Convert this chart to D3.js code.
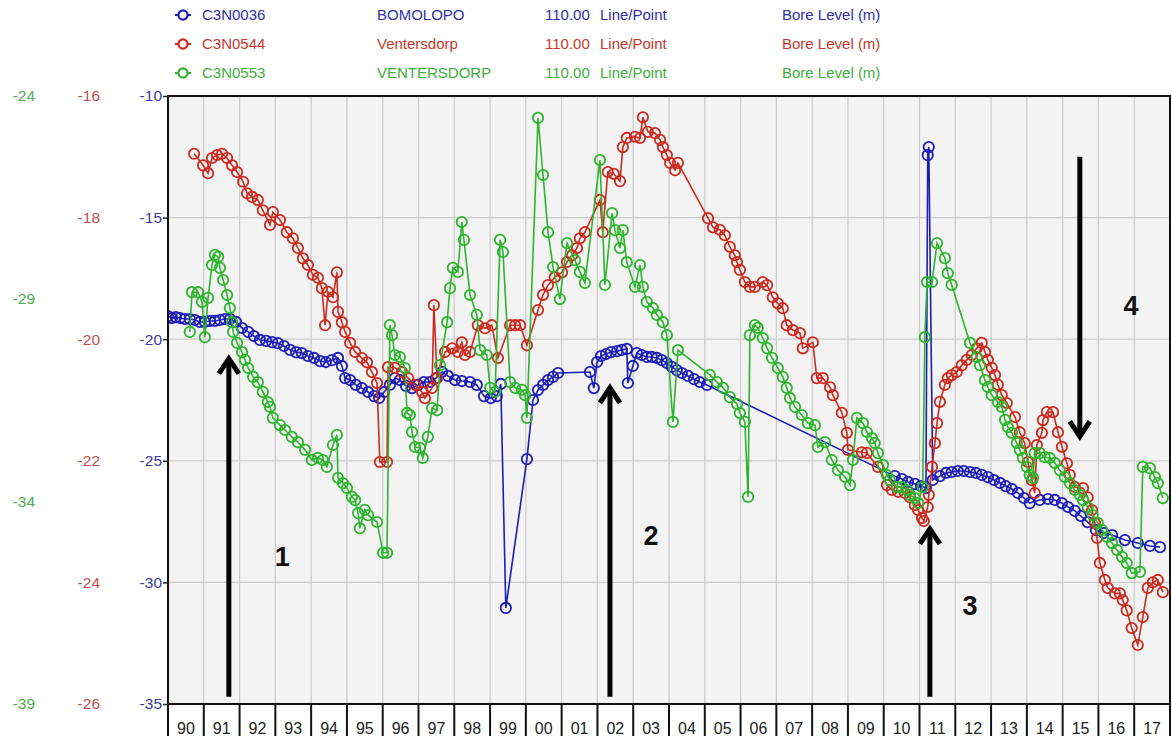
<!DOCTYPE html>
<html>
<head>
<meta charset="utf-8">
<script src="https://cdn.jsdelivr.net/npm/d3@7"></script>
<style>
  body { margin: 0; background: #fff; }
  svg { display: block; font-family: "Liberation Sans", Arial, sans-serif; }
</style>
</head>
<body>
<div id="root"></div>
<script>
// bore levels: [decimal year, level (m)]
const bluePoints = [
  [1990.00,-19.05],[1990.11,-19.13],[1990.22,-19.09],[1990.34,-19.13],[1990.47,-19.17],[1990.61,-19.17],[1990.75,-19.21],[1990.89,-19.29],
  [1991.03,-19.29],[1991.17,-19.25],[1991.31,-19.25],[1991.45,-19.21],[1991.59,-19.17],[1991.73,-19.17],[1991.90,-19.29],
  [1992.07,-19.54],[1992.24,-19.70],[1992.40,-19.87],[1992.57,-20.03],[1992.74,-20.07],[1992.91,-20.12],
  [1993.07,-20.16],[1993.24,-20.28],[1993.41,-20.44],[1993.58,-20.53],[1993.74,-20.57],[1993.91,-20.69],
  [1994.08,-20.77],[1994.25,-20.90],[1994.41,-20.94],[1994.58,-20.86],[1994.75,-20.77],[1994.86,-21.10],[1994.95,-21.60],
  [1995.09,-21.68],[1995.25,-21.88],[1995.42,-22.01],[1995.59,-22.17],[1995.76,-22.34],[1995.90,-22.42],
  [1996.04,-22.17],[1996.20,-21.88],[1996.34,-21.60],[1996.48,-21.68],[1996.65,-21.92],[1996.82,-22.01],[1996.99,-21.88],
  [1997.15,-21.76],[1997.32,-21.76],[1997.49,-21.60],[1997.66,-21.35],[1997.82,-21.51],
  [1998.02,-21.68],[1998.21,-21.72],[1998.44,-21.76],[1998.63,-21.88],[1998.83,-22.34],
  [1999.02,-22.42],[1999.19,-22.34],[1999.30,-21.84],[1999.44,-31.05],
  [2000.03,-24.93],[2000.20,-22.50],[2000.34,-22.09],[2000.48,-21.88],[2000.62,-21.68],[2000.76,-21.55],[2000.90,-21.39],
  [2001.79,-21.35],[2001.90,-22.01],[2001.99,-20.94],
  [2002.10,-20.69],[2002.24,-20.61],[2002.38,-20.53],[2002.55,-20.49],[2002.68,-20.44],[2002.82,-20.40],[2002.85,-21.80],[2002.99,-21.10],
  [2003.10,-20.57],[2003.24,-20.65],[2003.38,-20.73],[2003.52,-20.73],[2003.66,-20.77],[2003.80,-20.86],[2003.94,-20.98],
  [2004.08,-21.14],[2004.22,-21.27],[2004.36,-21.39],[2004.53,-21.51],[2004.70,-21.64],[2004.86,-21.76],[2005.06,-21.88],
  [2010.31,-25.63],[2010.51,-25.75],[2010.68,-25.87],[2010.87,-25.95],
  [2011.04,-26.04],[2011.18,-26.12],[2011.23,-12.43],[2011.26,-12.10],[2011.37,-25.79],[2011.57,-25.63],[2011.74,-25.50],[2011.90,-25.46],
  [2012.07,-25.42],[2012.24,-25.42],[2012.41,-25.46],[2012.58,-25.50],[2012.74,-25.58],[2012.91,-25.67],
  [2013.08,-25.79],[2013.25,-25.91],[2013.41,-26.04],[2013.58,-26.16],[2013.75,-26.32],[2013.92,-26.53],
  [2014.08,-26.74],[2014.36,-26.61],[2014.59,-26.57],[2014.78,-26.61],[2014.98,-26.74],
  [2015.15,-26.90],[2015.34,-27.06],[2015.51,-27.27],[2015.70,-27.52],[2015.93,-27.85],
  [2016.15,-27.97],[2016.38,-28.05],[2016.74,-28.26],[2017.10,-28.38],[2017.44,-28.50],[2017.72,-28.55]
];

const redPoints = [
  [1990.73,-16.95],[1990.98,-17.14],[1991.12,-17.27],[1991.23,-17.02],[1991.37,-16.97],[1991.51,-16.95],[1991.65,-17.02],[1991.79,-17.14],[1991.93,-17.25],
  [1992.10,-17.41],[1992.21,-17.60],[1992.35,-17.66],[1992.51,-17.71],[1992.65,-17.88],[1992.85,-18.12],[1992.93,-17.91],
  [1993.13,-18.04],[1993.32,-18.24],[1993.49,-18.34],[1993.63,-18.50],[1993.77,-18.67],[1993.91,-18.78],
  [1994.05,-18.94],[1994.19,-18.99],[1994.30,-19.16],[1994.39,-19.77],[1994.47,-19.22],[1994.61,-19.31],[1994.72,-18.90],[1994.75,-19.55],[1994.86,-19.72],[1994.95,-19.88],
  [1995.09,-20.06],[1995.23,-20.21],[1995.42,-20.31],[1995.56,-20.38],[1995.70,-20.54],[1995.84,-20.72],[1995.92,-22.02],
  [1996.12,-22.02],[1996.15,-20.46],[1996.34,-20.47],[1996.54,-20.54],[1996.71,-20.64],[1996.90,-20.75],
  [1997.10,-20.87],[1997.18,-20.97],[1997.38,-20.80],[1997.43,-19.44],[1997.52,-20.64],[1997.74,-20.21],[1997.94,-20.15],
  [1998.10,-20.21],[1998.21,-20.05],[1998.30,-20.26],[1998.44,-20.21],[1998.66,-19.77],[1998.86,-19.82],
  [1999.05,-19.77],[1999.22,-20.31],[1999.56,-19.77],[1999.70,-19.77],[1999.84,-19.77],
  [2000.03,-20.10],[2000.34,-19.52],[2000.48,-19.27],[2000.62,-19.11],[2000.81,-18.98],
  [2001.01,-18.90],[2001.15,-18.73],[2001.29,-18.62],[2001.43,-18.50],[2001.51,-18.34],[2001.65,-18.24],
  [2002.07,-17.71],[2002.15,-18.24],[2002.29,-17.25],[2002.46,-17.28],[2002.63,-17.40],[2002.71,-16.84],[2002.82,-16.69],
  [2003.05,-16.67],[2003.19,-16.69],[2003.27,-16.35],[2003.41,-16.59],[2003.61,-16.61],[2003.75,-16.72],[2003.83,-16.84],[2003.94,-16.97],
  [2004.03,-17.10],[2004.17,-17.22],[2004.25,-17.10],
  [2005.09,-18.01],[2005.23,-18.16],[2005.42,-18.20],[2005.56,-18.29],[2005.70,-18.48],[2005.84,-18.62],[2005.90,-18.73],[2005.98,-18.86],
  [2006.12,-19.06],[2006.26,-19.14],[2006.40,-19.14],[2006.62,-19.06],[2006.74,-19.11],[2006.90,-19.31],
  [2007.04,-19.41],[2007.18,-19.49],[2007.29,-19.77],[2007.46,-19.85],[2007.66,-19.90],[2007.74,-20.15],
  [2008.02,-20.05],[2008.13,-20.64],[2008.30,-20.64],[2008.50,-20.79],[2008.58,-20.92],[2008.83,-21.21],[2008.97,-21.54],
  [2009.00,-21.82],[2009.39,-21.86],[2009.53,-21.87],[2009.84,-22.10],
  [2010.09,-22.40],[2010.23,-22.48],[2010.40,-22.51],[2010.59,-22.53],[2010.73,-22.60],[2010.87,-22.73],[2010.96,-22.81],
  [2011.07,-22.94],[2011.12,-22.99],[2011.23,-22.76],[2011.26,-22.56],[2011.35,-22.10],[2011.43,-21.71],[2011.49,-21.38],[2011.57,-21.03],[2011.71,-20.75],[2011.79,-20.64],[2011.90,-20.59],
  [2012.04,-20.54],[2012.18,-20.43],[2012.32,-20.34],[2012.46,-20.26],[2012.60,-20.15],[2012.74,-20.06],[2012.83,-20.21],[2012.91,-20.34],
  [2013.02,-20.47],[2013.11,-20.59],[2013.19,-20.75],[2013.30,-20.92],[2013.44,-21.05],[2013.67,-21.28],[2013.80,-21.53],[2013.94,-21.71],
  [2014.03,-22.02],[2014.14,-22.32],[2014.22,-22.53],[2014.28,-21.74],[2014.42,-21.54],[2014.45,-21.33],[2014.56,-21.20],[2014.73,-21.20],[2014.87,-21.53],[2014.98,-21.77],
  [2015.12,-22.04],[2015.20,-22.23],[2015.34,-22.43],[2015.57,-22.45],[2015.70,-22.60],[2015.82,-22.81],[2015.90,-23.02],[2015.96,-23.27],
  [2016.04,-23.68],[2016.18,-23.96],[2016.26,-24.09],[2016.46,-24.18],[2016.60,-24.18],[2016.68,-24.29],[2016.79,-24.46],[2016.93,-24.75],
  [2017.10,-25.03],[2017.24,-24.57],[2017.38,-24.09],[2017.52,-24.00],[2017.66,-23.96],[2017.80,-24.16]
];

const greenPoints = [
  [1990.61,-29.82],[1990.67,-28.84],[1990.84,-28.84],[1990.95,-29.08],[1991.03,-29.95],[1991.12,-28.98],[1991.23,-28.17],[1991.31,-27.92],
  [1991.40,-27.97],[1991.45,-28.24],[1991.54,-28.54],[1991.65,-28.91],[1991.73,-29.23],[1991.79,-29.58],[1991.82,-29.82],[1991.93,-30.09],
  [1992.07,-30.32],[1992.15,-30.51],[1992.24,-30.71],[1992.38,-30.93],[1992.51,-31.06],[1992.65,-31.30],[1992.79,-31.55],[1992.85,-31.67],[1992.93,-31.94],
  [1993.13,-32.12],[1993.27,-32.24],[1993.46,-32.41],[1993.63,-32.54],[1993.83,-32.73],
  [1994.02,-32.98],[1994.19,-32.93],[1994.33,-32.98],[1994.44,-33.15],[1994.61,-32.61],[1994.72,-32.36],[1994.75,-33.42],[1994.89,-33.55],
  [1995.00,-33.67],[1995.14,-33.89],[1995.23,-33.97],[1995.31,-34.29],[1995.36,-34.66],[1995.50,-34.21],[1995.59,-34.34],[1995.84,-34.51],
  [1996.01,-35.27],[1996.12,-35.27],[1996.20,-29.65],[1996.26,-29.90],[1996.34,-30.39],[1996.48,-30.44],[1996.62,-30.71],[1996.68,-31.82],[1996.76,-31.87],[1996.82,-32.29],[1996.90,-32.66],
  [1997.04,-32.68],[1997.12,-32.93],[1997.26,-32.41],[1997.38,-31.70],[1997.52,-31.75],[1997.60,-30.64],[1997.80,-29.58],[1997.88,-28.74],[1997.96,-28.24],
  [1998.10,-28.34],[1998.21,-27.11],[1998.27,-27.55],[1998.44,-28.91],[1998.63,-29.40],[1998.72,-30.27],[1998.91,-30.39],
  [1999.00,-31.20],[1999.14,-31.30],[1999.28,-27.55],[1999.36,-27.85],[1999.56,-31.06],[1999.70,-31.20],[1999.89,-31.25],[1999.98,-31.38],
  [2000.03,-31.94],[2000.34,-24.54],[2000.48,-25.95],[2000.62,-27.36],[2000.76,-28.22],[2000.95,-29.01],
  [2001.15,-27.63],[2001.37,-28.05],[2001.51,-28.34],[2001.65,-28.61],
  [2002.07,-25.58],[2002.21,-28.66],[2002.41,-26.89],[2002.49,-27.31],[2002.63,-27.75],[2002.71,-27.31],[2002.82,-28.10],
  [2003.05,-28.71],[2003.19,-28.17],[2003.27,-28.71],[2003.38,-29.08],[2003.55,-29.23],[2003.66,-29.40],[2003.83,-29.58],[2003.94,-29.90],
  [2004.11,-32.04],[2004.25,-30.27],
  [2005.14,-30.88],[2005.34,-31.06],[2005.51,-31.20],[2005.70,-31.43],[2005.90,-31.60],[2005.98,-31.82],
  [2006.12,-32.04],[2006.21,-33.89],[2006.26,-29.90],[2006.40,-29.65],[2006.48,-29.72],[2006.62,-29.97],[2006.74,-30.22],[2006.88,-30.46],
  [2007.04,-30.71],[2007.18,-30.93],[2007.29,-31.20],[2007.38,-31.45],[2007.52,-31.67],[2007.71,-31.87],[2007.88,-32.07],
  [2008.08,-32.12],[2008.16,-32.66],[2008.36,-32.54],[2008.55,-32.98],[2008.72,-33.23],[2008.92,-33.40],
  [2009.06,-33.60],[2009.14,-32.98],[2009.25,-31.94],[2009.42,-32.07],[2009.53,-32.29],[2009.67,-32.44],[2009.75,-32.56],[2009.84,-32.81],[2009.98,-33.10],
  [2010.09,-33.35],[2010.17,-33.47],[2010.37,-33.65],[2010.51,-33.65],[2010.65,-33.72],[2010.73,-33.84],[2010.87,-33.92],[2010.96,-34.04],
  [2011.09,-33.65],[2011.15,-29.95],[2011.21,-28.59],[2011.35,-28.59],[2011.49,-27.63],[2011.71,-28.00],[2011.79,-28.37],[2011.90,-28.66],
  [2012.41,-30.09],[2012.60,-30.44],[2012.69,-30.64],[2012.83,-31.01],[2012.91,-31.18],
  [2013.02,-31.38],[2013.19,-31.55],[2013.30,-31.67],[2013.39,-31.99],[2013.47,-32.17],[2013.58,-32.31],[2013.72,-32.56],[2013.80,-32.73],[2013.89,-32.93],
  [2014.00,-33.15],[2014.08,-33.35],[2014.17,-33.42],[2014.22,-32.81],[2014.36,-32.81],[2014.50,-32.91],[2014.64,-32.93],[2014.78,-33.05],[2014.92,-33.23],
  [2015.06,-33.40],[2015.20,-33.55],[2015.34,-33.72],[2015.48,-33.84],[2015.57,-33.97],[2015.70,-34.14],[2015.84,-34.34],[2015.98,-34.53],
  [2016.10,-34.71],[2016.24,-34.88],[2016.38,-35.03],[2016.52,-35.20],[2016.66,-35.37],[2016.79,-35.52],[2016.93,-35.77],
  [2017.16,-35.74],[2017.24,-33.15],[2017.44,-33.18],[2017.58,-33.40],[2017.66,-33.55],[2017.80,-33.92]
];

// axis ticks (one scale per bore)
const blueTicks = [-10, -15, -20, -25, -30, -35];
const redTicks = [-16, -18, -20, -22, -24, -26];
const greenTicks = [-24, -29, -34, -39];
const years = d3.range(1990, 2018);

// legend columns
const boreCodes = ["C3N0036", "C3N0544", "C3N0553"];
const boreNames = ["BOMOLOPO", "Ventersdorp", "VENTERSDORP"];
const boreOffsets = ["110.00", "110.00", "110.00"];
const boreStyles = ["Line/Point", "Line/Point", "Line/Point"];
const boreUnits = ["Bore Level (m)", "Bore Level (m)", "Bore Level (m)"];

// annotation arrows, in year / blue-axis units
const arrowYears = [1991.70, 2002.35, 2011.29, 2015.48];
const arrowFrom = [-34.7, -34.7, -34.7, -12.5];
const arrowTo = [-20.8, -22.0, -27.8, -24.0];
const noteText = ["1", "2", "3", "4"];
const noteYears = [1993.19, 2003.50, 2012.41, 2016.91];
const noteLevels = [-28.9, -28.05, -30.93, -18.59];

const W = 1172, H = 736;
const plot = { left: 168, right: 1170, top: 96, bottom: 704 };

const x = d3.scaleLinear().domain([1990, 2018]).range([plot.left, plot.right]);
const yBlue = d3.scaleLinear().domain([-35, -10]).range([plot.bottom, plot.top]);
const yRed = d3.scaleLinear().domain([-26, -16]).range([plot.bottom, plot.top]);
const yGreen = d3.scaleLinear().domain([-39, -24]).range([plot.bottom, plot.top]);

const series = [
  { points: bluePoints, y: yBlue, color: "#1d1db8", text: "#2e2ea6", axis: "#3a3aa0" },
  { points: redPoints, y: yRed, color: "#cc2a1e", text: "#c8372b", axis: "#c0504d" },
  { points: greenPoints, y: yGreen, color: "#2db52d", text: "#3cae3c", axis: "#4caf50" }
];

const svg = d3.select("#root").append("svg").attr("width", W).attr("height", H);

// plot background + grid
svg.append("rect")
  .attr("x", plot.left).attr("y", plot.top)
  .attr("width", plot.right - plot.left).attr("height", plot.bottom - plot.top)
  .attr("fill", "#f3f3f3");

svg.append("g").selectAll("line").data(years.slice(1))
  .enter().append("line")
  .attr("x1", d => x(d)).attr("x2", d => x(d))
  .attr("y1", plot.top).attr("y2", plot.bottom)
  .attr("stroke", "#cacaca").attr("stroke-width", 1.2);

svg.append("g").selectAll("line").data(blueTicks.slice(1, -1))
  .enter().append("line")
  .attr("x1", plot.left).attr("x2", plot.right)
  .attr("y1", d => yBlue(d)).attr("y2", d => yBlue(d))
  .attr("stroke", "#cacaca").attr("stroke-width", 1.2);

// series: line + open circle markers
svg.append("clipPath").attr("id", "plotClip").append("rect")
  .attr("x", plot.left).attr("y", plot.top - 6)
  .attr("width", plot.right - plot.left).attr("height", plot.bottom - plot.top + 6);

const marks = svg.append("g").attr("clip-path", "url(#plotClip)");
series.forEach(s => {
  const line = d3.line().x(d => x(d[0])).y(d => s.y(d[1]));
  const g = marks.append("g");
  g.append("path").datum(s.points)
    .attr("d", line).attr("fill", "none")
    .attr("stroke", s.color).attr("stroke-width", 1.6);
  g.selectAll("circle").data(s.points)
    .enter().append("circle")
    .attr("cx", d => x(d[0])).attr("cy", d => s.y(d[1]))
    .attr("r", 5.2).attr("fill", "none")
    .attr("stroke", s.color).attr("stroke-width", 1.8);
});

// frame
svg.append("rect")
  .attr("x", plot.left).attr("y", plot.top)
  .attr("width", plot.right - plot.left).attr("height", plot.bottom - plot.top)
  .attr("fill", "none").attr("stroke", "#111").attr("stroke-width", 2);

// y axes
function yAxis(scale, ticks, xPos, size, color) {
  const g = svg.append("g")
    .attr("transform", `translate(${xPos},0)`)
    .call(d3.axisLeft(scale).tickValues(ticks).tickSize(size).tickPadding(size ? 1 : 3).tickFormat(d => String(d)));
  g.select(".domain").remove();
  g.selectAll(".tick line").attr("stroke", "#222").attr("stroke-width", 1.5);
  g.selectAll(".tick text")
    .attr("fill", color).attr("font-size", 15.5)
    .style("font-family", '"Liberation Sans", Arial, sans-serif');
}
yAxis(yBlue, blueTicks, plot.left, 5, series[0].axis);
yAxis(yRed, redTicks, 103, 0, series[1].axis);
yAxis(yGreen, greenTicks, 38, 0, series[2].axis);

// x axis: boxed year cells
const xg = svg.append("g");
xg.selectAll("line").data(d3.range(1990, 2019))
  .enter().append("line")
  .attr("x1", d => x(d)).attr("x2", d => x(d))
  .attr("y1", plot.bottom).attr("y2", H)
  .attr("stroke", "#111").attr("stroke-width", 2);
xg.selectAll("text").data(years)
  .enter().append("text")
  .attr("x", d => x(d + 0.5)).attr("y", 734)
  .attr("text-anchor", "middle")
  .attr("font-size", 16).attr("fill", "#222")
  .text(d => String(d % 100).padStart(2, "0"));

// legend
const legend = svg.append("g");
series.forEach((s, i) => {
  const row = legend.append("g").attr("transform", `translate(0,${15 + i * 29})`);
  row.append("line").attr("x1", 175).attr("x2", 191).attr("y1", 0).attr("y2", 0)
    .attr("stroke", s.color).attr("stroke-width", 2);
  row.append("circle").attr("cx", 183).attr("cy", 0).attr("r", 4.6)
    .attr("fill", "#fff").attr("stroke", s.color).attr("stroke-width", 2.2);
  const cols = [[202, boreCodes[i]], [377, boreNames[i]], [545, boreOffsets[i]], [600, boreStyles[i]], [782, boreUnits[i]]];
  cols.forEach(c => {
    row.append("text").attr("x", c[0]).attr("y", 5)
      .attr("font-size", 15).attr("fill", s.text).text(c[1]);
  });
});

// annotations
const notes = svg.append("g");
arrowYears.forEach((yr, i) => {
  const ax = x(yr), y0 = yBlue(arrowFrom[i]), y1 = yBlue(arrowTo[i]);
  const dir = y1 < y0 ? 1 : -1;
  notes.append("line")
    .attr("x1", ax).attr("x2", ax).attr("y1", y0).attr("y2", y1 + dir * 2)
    .attr("stroke", "#000").attr("stroke-width", 5);
  notes.append("polyline")
    .attr("points", `${ax - 10},${y1 + dir * 15} ${ax},${y1} ${ax + 10},${y1 + dir * 15}`)
    .attr("fill", "none").attr("stroke", "#000").attr("stroke-width", 5)
    .attr("stroke-linejoin", "miter");
});
notes.selectAll("text").data(noteText)
  .enter().append("text")
  .attr("x", (d, i) => x(noteYears[i])).attr("y", (d, i) => yBlue(noteLevels[i]) + 10)
  .attr("text-anchor", "middle")
  .attr("font-size", 27).attr("font-weight", "bold").attr("fill", "#111")
  .text(d => d);
</script>
</body>
</html>
